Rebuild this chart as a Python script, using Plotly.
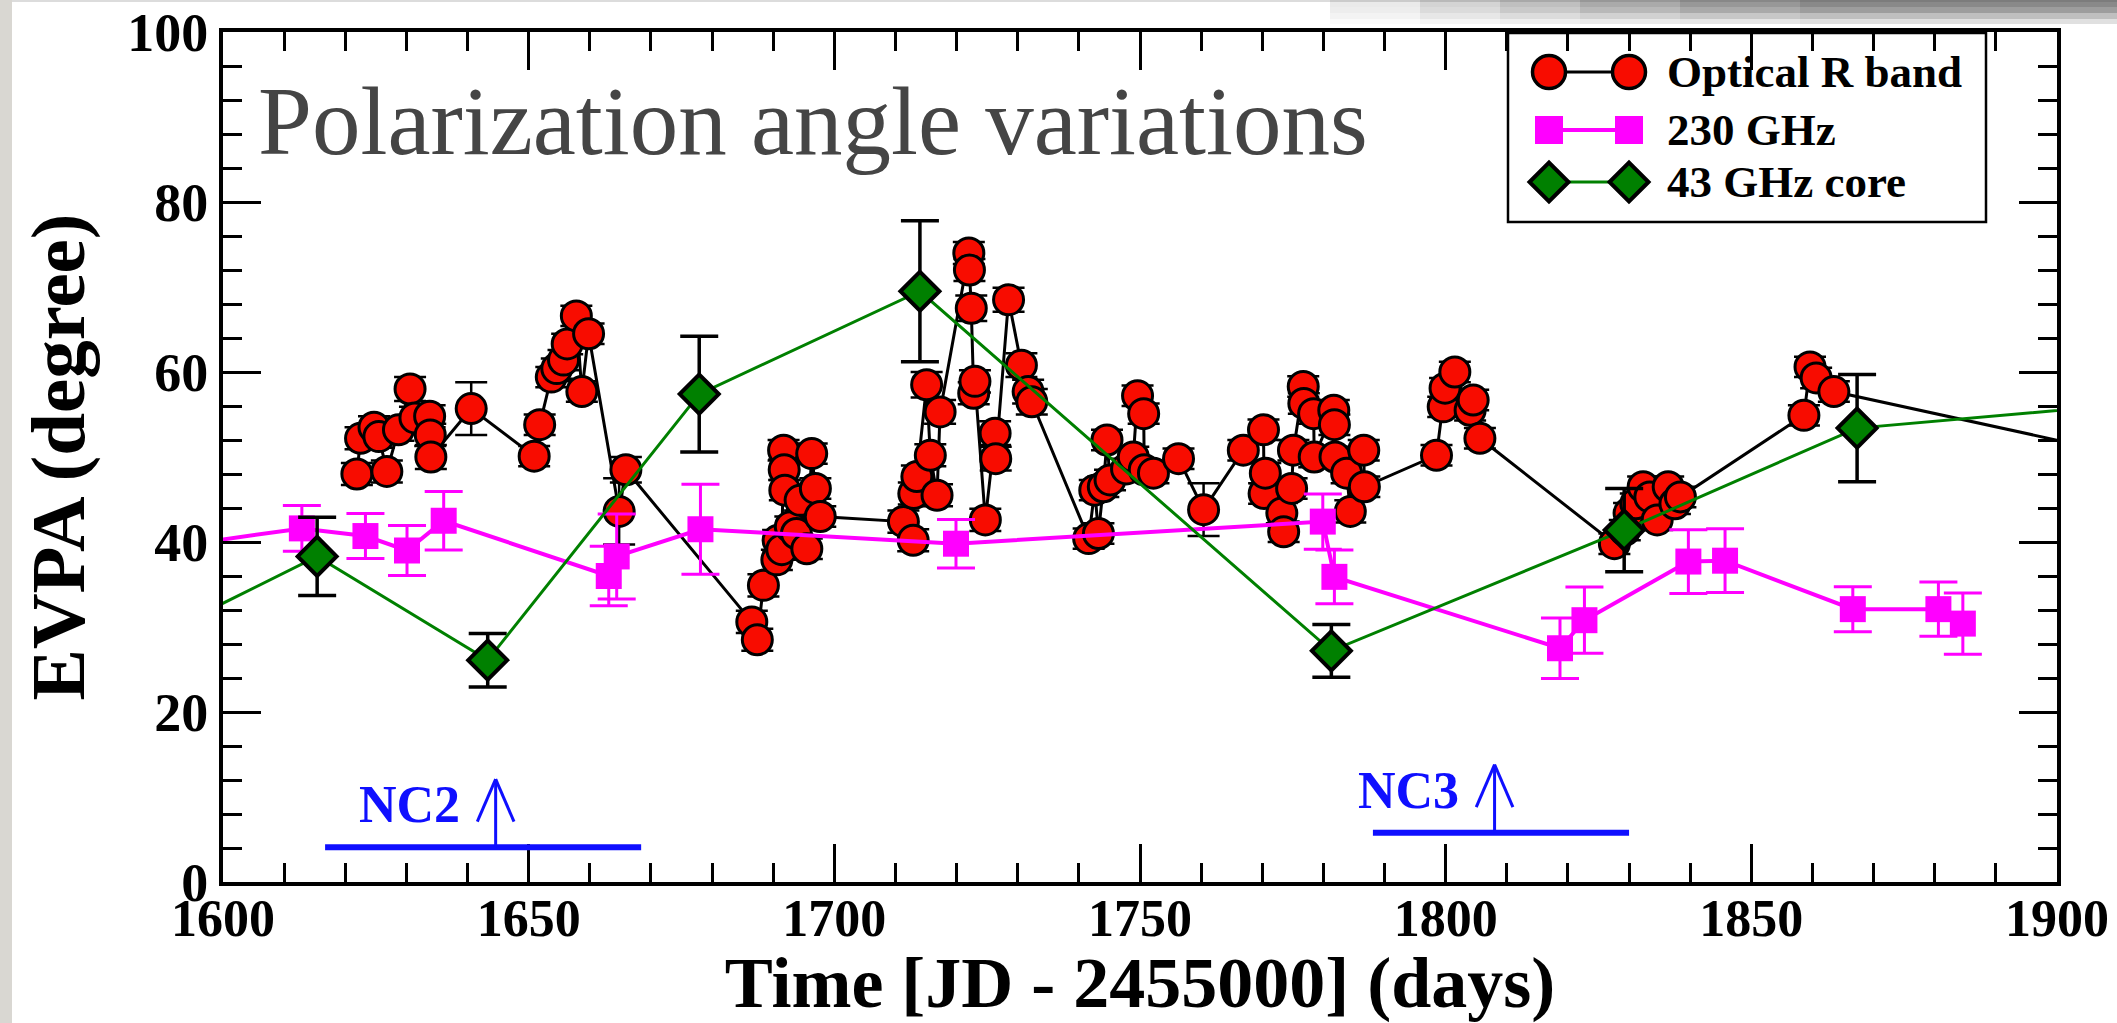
import plotly.graph_objects as go

# ---- Optical R band EVPA ----
opt_day = [1621.9, 1622.5, 1624.7, 1625.5, 1626.8, 1628.7, 1630.6, 1631.4, 1633.8, 1633.9,
           1634.0, 1640.6, 1650.9, 1651.8, 1653.7, 1654.6, 1655.7, 1656.3, 1657.8, 1658.7,
           1659.8, 1664.8, 1665.9, 1686.5, 1687.4, 1688.4, 1690.6, 1690.8, 1691.4, 1691.7,
           1691.8, 1691.9, 1692.8, 1693.8, 1694.4, 1695.5, 1696.3, 1696.9, 1697.7, 1711.3,
           1712.9, 1713.0, 1713.5, 1715.1, 1715.7, 1716.8, 1717.3, 1722.0, 1722.1, 1722.4,
           1722.8, 1723.0, 1724.7, 1726.3, 1726.4, 1728.5, 1730.6, 1731.7, 1732.3, 1741.6,
           1742.6, 1743.2, 1744.0, 1744.6, 1745.1, 1747.8, 1748.9, 1749.6, 1750.6, 1750.7,
           1752.2, 1756.3, 1760.4, 1766.9, 1770.2, 1770.3, 1770.5, 1773.2, 1773.5, 1774.8,
           1775.1, 1776.7, 1776.8, 1778.4, 1778.5, 1781.7, 1781.8, 1781.9, 1783.8, 1784.4,
           1786.6, 1786.7, 1798.5, 1799.6, 1799.9, 1801.5, 1804.0, 1804.5, 1805.6, 1827.6,
           1829.3, 1830.0, 1831.1, 1832.3, 1833.4, 1834.6, 1836.4, 1837.5, 1838.4, 1858.6,
           1859.6, 1860.6, 1863.5, 1912.0]
opt_evpa = [48.0, 52.2, 53.5, 52.4, 48.3, 53.2, 58.0, 54.6, 54.8, 52.6,
            50.0, 55.7, 50.1, 53.8, 59.4, 60.4, 61.4, 63.3, 66.6, 57.7,
            64.5, 43.6, 48.5, 30.6, 28.5, 34.9, 37.9, 40.2, 39.1, 50.8,
            48.5, 46.1, 41.8, 41.0, 44.9, 39.2, 50.4, 46.3, 43.0, 42.4,
            40.2, 45.7, 47.7, 58.5, 50.2, 45.5, 55.3, 74.0, 72.0, 67.5,
            57.5, 58.9, 42.6, 52.8, 49.8, 68.5, 60.8, 57.7, 56.5, 40.4,
            46.1, 41.0, 46.5, 52.0, 47.3, 48.6, 50.0, 57.2, 55.1, 48.5,
            48.1, 49.8, 43.8, 50.8, 53.2, 45.7, 48.1, 43.4, 41.2, 46.3,
            50.8, 58.3, 56.3, 55.1, 50.0, 55.5, 53.8, 50.0, 48.1, 43.6,
            50.8, 46.5, 50.2, 55.9, 58.1, 60.0, 55.5, 56.7, 52.2, 39.8,
            41.4, 43.4, 44.5, 46.5, 45.3, 42.6, 46.5, 44.5, 45.3, 54.9,
            60.6, 59.3, 57.7, 50.1]
opt_err = [1.3, 1.3, 1.3, 1.3, 1.3, 1.3, 1.4, 1.3, 1.3, 1.3,
           1.4, 3.1, 1.2, 1.2, 1.2, 1.2, 1.2, 1.2, 1.2, 1.2,
           1.2, 3.9, 1.5, 1.3, 1.3, 1.3, 1.2, 1.2, 1.2, 1.2,
           1.2, 1.2, 1.2, 1.2, 1.2, 1.2, 1.2, 1.2, 1.2, 1.3,
           1.3, 1.3, 1.3, 1.5, 1.3, 1.3, 1.4, 1.3, 1.3, 1.5,
           1.3, 1.3, 1.3, 1.4, 1.4, 1.4, 1.4, 1.4, 1.5, 1.2,
           1.2, 1.2, 1.2, 1.2, 1.2, 1.2, 1.2, 1.2, 1.2, 1.2,
           1.2, 1.2, 3.1, 1.2, 1.2, 1.2, 1.2, 1.2, 1.2, 1.2,
           1.2, 1.2, 1.2, 1.2, 1.2, 1.2, 1.2, 1.2, 1.2, 1.3,
           1.2, 1.2, 1.2, 1.2, 1.2, 1.2, 1.2, 1.2, 1.2, 1.2,
           1.2, 1.2, 1.2, 1.2, 1.2, 1.2, 1.2, 1.2, 1.2, 1.2,
           1.2, 1.2, 1.2, 1.2]

# ---- 230 GHz EVPA ----
mm_day = [1590.0, 1612.9, 1623.3, 1630.1, 1636.1, 1663.1, 1664.4, 1678.1, 1719.9, 1779.9,
          1781.8, 1818.7, 1822.7, 1839.7, 1845.7, 1866.6, 1880.6, 1884.6]
mm_evpa = [39.3, 41.6, 40.7, 39.0, 42.5, 36.0, 38.3, 41.5, 39.8, 42.4,
           35.9, 27.5, 30.8, 37.7, 37.8, 32.1, 32.1, 30.4]
mm_err = [2.7, 2.7, 2.65, 2.95, 3.45, 3.5, 5.0, 5.3, 2.85, 3.25,
          3.15, 3.55, 3.9, 3.75, 3.75, 2.65, 3.2, 3.6]

# ---- 43 GHz core EVPA ----
core_day = [1588.0, 1615.4, 1643.3, 1677.9, 1714.0, 1781.3, 1829.2, 1867.3, 1935.0]
core_evpa = [28.5, 38.3, 26.1, 57.4, 69.5, 27.2, 41.4, 53.4, 57.7]
core_err = [4.6, 4.6, 3.15, 6.8, 8.3, 3.1, 4.9, 6.3, 6.3]

# ---- ejection epochs of new components (label, epoch, start, end, bar level) ----
nc_label = ["NC2", "NC3"]
nc_epoch = [1644.6, 1808.0]
nc_start = [1616.7, 1788.1]
nc_end = [1668.4, 1830.0]
nc_level = [4.1, 5.8]

X_RANGE = [1600, 1900]
Y_RANGE = [0, 100]

W, H = 2117, 1023
ML, MR, MT, MB = 223, 60, 32, 141
PW, PH = W - ML - MR, H - MT - MB

SERIF = "Liberation Serif"
RED = "#f80c00"
MAGENTA = "#ff00ff"
GREEN = "#008000"
BLUE = "#0f0fff"


def px_x(px):
    return (px - ML) / PW


def px_y(py):
    return (H - MB - py) / PH


fig = go.Figure()

fig.add_trace(go.Scatter(
    x=opt_day, y=opt_evpa, mode="lines+markers", name="Optical R band",
    line=dict(color="black", width=3),
    marker=dict(symbol="circle", size=30, color=RED, line=dict(color="black", width=3)),
    error_y=dict(type="data", array=opt_err, color="black", thickness=2.5, width=16),
    showlegend=False,
))

fig.add_trace(go.Scatter(
    x=mm_day, y=mm_evpa, mode="lines+markers", name="230 GHz",
    line=dict(color=MAGENTA, width=4),
    marker=dict(symbol="square", size=26, color=MAGENTA),
    error_y=dict(type="data", array=mm_err, color=MAGENTA, thickness=3, width=19),
    showlegend=False,
))

fig.add_trace(go.Scatter(
    x=core_day, y=core_evpa, mode="lines+markers", name="43 GHz core",
    line=dict(color=GREEN, width=3),
    marker=dict(symbol="diamond", size=30, color=GREEN, line=dict(color="black", width=4)),
    error_y=dict(type="data", array=core_err, color="black", thickness=3.5, width=19),
    showlegend=False,
))

# ---- legend drawn in a pixel-space overlay ----
leg_rows = [72, 130, 182]
leg_x = [1549, 1629]
fig.add_trace(go.Scatter(
    x=leg_x, y=[leg_rows[0]] * 2, xaxis="x2", yaxis="y2", mode="lines+markers",
    line=dict(color="black", width=3),
    marker=dict(symbol="circle", size=33, color=RED, line=dict(color="black", width=3.5)),
    showlegend=False, hoverinfo="skip", cliponaxis=False,
))
fig.add_trace(go.Scatter(
    x=leg_x, y=[leg_rows[1]] * 2, xaxis="x2", yaxis="y2", mode="lines+markers",
    line=dict(color=MAGENTA, width=4),
    marker=dict(symbol="square", size=28, color=MAGENTA),
    showlegend=False, hoverinfo="skip", cliponaxis=False,
))
fig.add_trace(go.Scatter(
    x=leg_x, y=[leg_rows[2]] * 2, xaxis="x2", yaxis="y2", mode="lines+markers",
    line=dict(color=GREEN, width=3),
    marker=dict(symbol="diamond", size=30, color=GREEN, line=dict(color="black", width=4)),
    showlegend=False, hoverinfo="skip", cliponaxis=False,
))

shapes = []
annotations = []

shapes.append(dict(type="rect", xref="x2", yref="y2", x0=1508, x1=1986, y0=33, y1=222,
                   line=dict(color="black", width=2.5), fillcolor="white", layer="below"))
for txt, yy in zip(["Optical R band", "230 GHz", "43 GHz core"], leg_rows):
    annotations.append(dict(xref="x2", yref="y2", x=1665, y=yy, text=txt, showarrow=False,
                            xanchor="left", yanchor="middle",
                            font=dict(family=SERIF, size=45, color="black", weight="bold")))

# ---- new-component ejection markers ----
for lab, ep, s, e, lv in zip(nc_label, nc_epoch, nc_start, nc_end, nc_level):
    tip = lv + 8.0
    shapes.append(dict(type="line", xref="x", yref="y", x0=s, x1=e, y0=lv, y1=lv,
                       line=dict(color=BLUE, width=6), layer="above"))
    shapes.append(dict(type="line", xref="x", yref="y", x0=ep, x1=ep, y0=lv, y1=tip,
                       line=dict(color=BLUE, width=3), layer="above"))
    shapes.append(dict(type="line", xref="x", yref="y", x0=ep - 3.0, x1=ep, y0=tip - 5.0, y1=tip,
                       line=dict(color=BLUE, width=3), layer="above"))
    shapes.append(dict(type="line", xref="x", yref="y", x0=ep + 3.0, x1=ep, y0=tip - 5.0, y1=tip,
                       line=dict(color=BLUE, width=3), layer="above"))
    annotations.append(dict(xref="x", yref="y", x=ep - 5.5, y=lv + 5.0, text=lab, showarrow=False,
                            xanchor="right", yanchor="middle",
                            font=dict(family=SERIF, size=52, color=BLUE, weight="bold")))

# ---- panel title ----
annotations.append(dict(xref="paper", yref="paper", x=px_x(256), y=px_y(122),
                        text="Polarization angle variations", showarrow=False,
                        xanchor="left", yanchor="middle",
                        font=dict(family=SERIF, size=97, color="#454545")))

# ---- page framing: grey strip on the left, soft shadow along the top right ----
shapes.append(dict(type="rect", xref="paper", yref="paper", x0=px_x(0), x1=px_x(12),
                   y0=px_y(H), y1=px_y(0), line=dict(width=0), fillcolor="#d9d7d2", layer="above"))
shapes.append(dict(type="rect", xref="paper", yref="paper", x0=px_x(12), x1=px_x(W),
                   y0=px_y(2), y1=px_y(0), line=dict(width=0), fillcolor="#dcdcdc", layer="above"))
for x_start, op in [(1330, 0.12), (1420, 0.14), (1500, 0.16), (1580, 0.18), (1680, 0.2), (1800, 0.2)]:
    for y0, y1, shade in [(0, 7, 80), (7, 13, 110), (13, 19, 160), (19, 24, 210)]:
        shapes.append(dict(type="rect", xref="paper", yref="paper", x0=px_x(x_start), x1=px_x(W),
                           y0=px_y(y1), y1=px_y(y0), line=dict(width=0),
                           fillcolor=f"rgb({shade},{shade},{shade})", opacity=op, layer="above"))

tick_font = dict(family=SERIF, size=52, color="black", weight="bold")
ytick_font = dict(family=SERIF, size=54, color="black", weight="bold")
title_font = dict(family=SERIF, size=72, color="black", weight="bold")

fig.update_layout(
    width=W, height=H,
    margin=dict(l=ML, r=MR, t=MT, b=MB, autoexpand=False),
    paper_bgcolor="white", plot_bgcolor="white",
    showlegend=False,
    shapes=shapes, annotations=annotations,
    xaxis=dict(
        range=X_RANGE, tick0=1600, dtick=50, ticks="inside", ticklen=38, tickwidth=3,
        tickcolor="black", showline=True, linewidth=4, linecolor="black", mirror="allticks",
        showgrid=False, zeroline=False, tickfont=tick_font, ticklabelstandoff=-12,
        minor=dict(dtick=10, ticks="inside", ticklen=19, tickwidth=2.5, tickcolor="black",
                   showgrid=False),
        title=dict(text="Time [JD - 2455000] (days)", font=title_font, standoff=8),
        automargin=False,
    ),
    yaxis=dict(
        range=Y_RANGE, tick0=0, dtick=20, ticks="inside", ticklen=38, tickwidth=3,
        tickcolor="black", showline=True, linewidth=4, linecolor="black", mirror="allticks",
        showgrid=False, zeroline=False, tickfont=ytick_font,
        minor=dict(dtick=4, ticks="inside", ticklen=19, tickwidth=2.5, tickcolor="black",
                   showgrid=False),
        title=dict(text="EVPA (degree)", font=dict(family=SERIF, size=77, color="black",
                                                  weight="bold"), standoff=18),
        automargin=False,
    ),
    xaxis2=dict(overlaying="x", anchor="y2", range=[ML, W - MR], visible=False, fixedrange=True),
    yaxis2=dict(overlaying="y", anchor="x2", range=[H - MB, MT], visible=False, fixedrange=True),
)

fig.write_html("out.html")
